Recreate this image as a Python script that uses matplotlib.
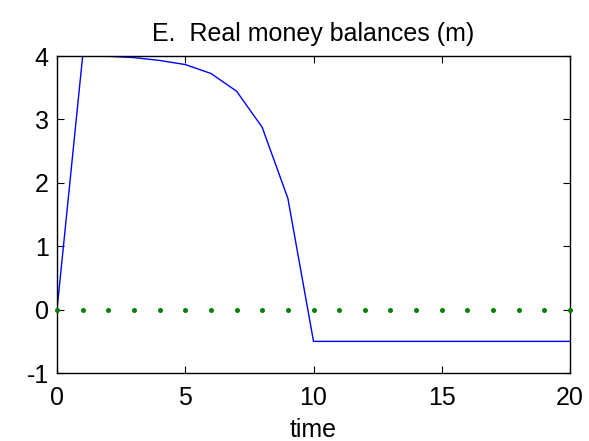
import matplotlib
matplotlib.use("Agg")
import matplotlib.pyplot as plt

plt.rcParams['font.family'] = ['Liberation Sans', 'DejaVu Sans']
plt.rcParams['axes.unicode_minus'] = False

time = list(range(0, 21))
real_money = [0.0, 4.0, 3.995, 3.975, 3.93, 3.865, 3.725, 3.445, 2.875, 1.755, -0.5,
              -0.5, -0.5, -0.5, -0.5, -0.5, -0.5, -0.5, -0.5, -0.5, -0.5]
baseline = [0.0] * 21

x_ticks = [0, 5, 10, 15, 20]
y_ticks = [-1, 0, 1, 2, 3, 4]

fig = plt.figure(figsize=(5.89, 4.41), dpi=100)
ax = fig.add_axes([0.0968, 0.154, 0.871, 0.719])

ax.plot(time, real_money, color=(0, 0, 1), linewidth=1.0)
ax.plot(time, baseline, linestyle='none', marker='o', markersize=3.6,
        color=(0, 0.5, 0), markeredgewidth=0, clip_on=False, zorder=3)

ax.set_xlim(0, 20)
ax.set_ylim(-1, 4)
ax.set_xticks(x_ticks)
ax.set_yticks(y_ticks)
ax.tick_params(direction='in', length=5, width=0.8, labelsize=18,
               top=True, right=True)
ax.tick_params(axis='y', pad=6)
ax.tick_params(axis='x', pad=9)
for s in ax.spines.values():
    s.set_linewidth(1.0)

ax.set_title('E.  Real money balances (m)', fontsize=18, pad=11)
ax.set_xlabel('time', fontsize=18, labelpad=6)

fig.savefig('out.png', dpi=100)
